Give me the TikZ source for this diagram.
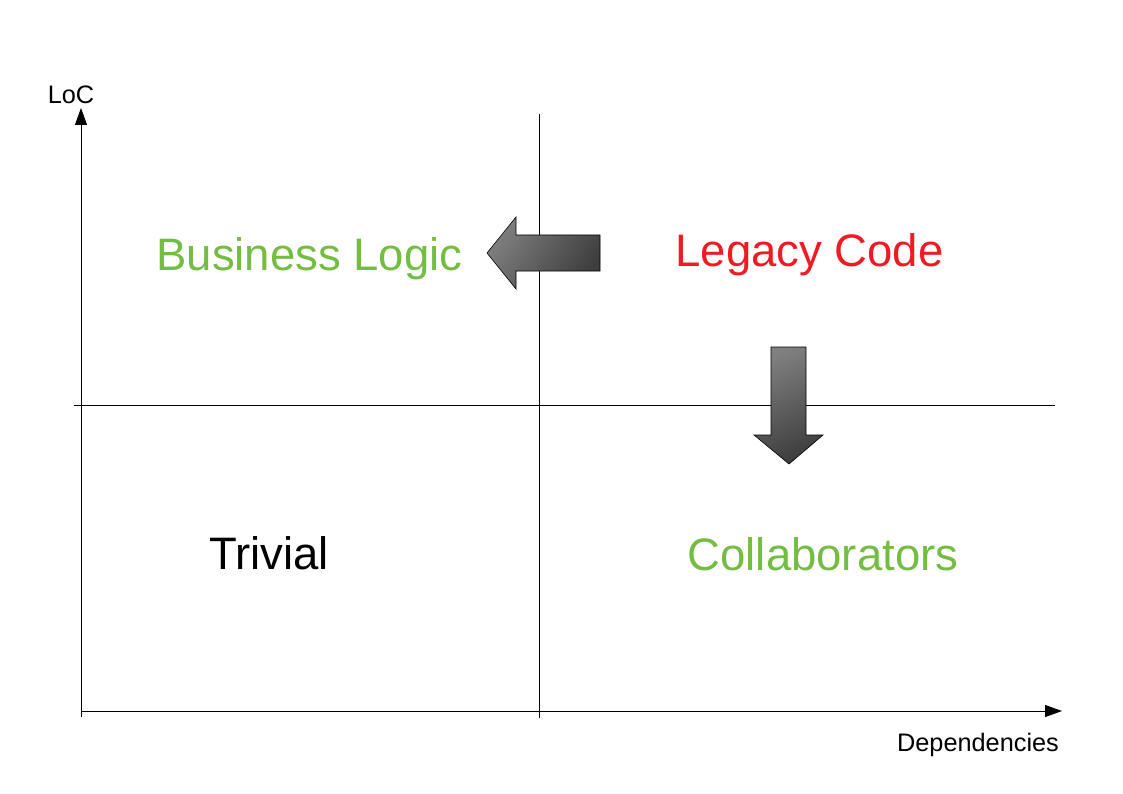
\documentclass[tikz,border=0pt]{standalone}
\usepackage{fontspec}
\setmainfont{Liberation Sans}
\usetikzlibrary{arrows.meta}
\definecolor{lgreen}{HTML}{74BD43}
\definecolor{lred}{HTML}{ED1C24}
\tikzset{
  axisline/.style={line width=1pt, -{Triangle[length=17pt,width=12pt]}},
  divider/.style={line width=0.9pt},
  bigtext/.style={font=\fontsize{45.5}{52}\selectfont, inner sep=0pt, anchor=base},
  smalltext/.style={font=\fontsize{25.3}{28}\selectfont, inner sep=0pt, anchor=base},
  blockarrow/.style={draw=black, line width=0.6pt, top color=black!50, bottom color=black!76, shading angle=#1},
}
\begin{document}
\begin{tikzpicture}[x=1pt,y=-1pt]
\useasboundingbox (0,0) rectangle (1123,794);
% axes
\coordinate (yb) at (81,717);
\coordinate (yt) at (81,108);
\coordinate (xl) at (81,711);
\coordinate (xr) at (1062,711);
\draw[axisline] (yb) -- (yt);
\draw[axisline] (xl) -- (xr);
% dividers
\coordinate (vt) at (539,114);
\coordinate (vb) at (539,718);
\coordinate (hl) at (74,405);
\coordinate (hr) at (1055,405);
\draw[divider] (vt) -- (vb);
\draw[divider] (hl) -- (hr);
% block arrows
\shadedraw[blockarrow=55]
  (600,235) -- (516,235) -- (516,217) -- (487,253) -- (516,289) -- (516,271) -- (600,271) -- cycle;
\shadedraw[blockarrow=25]
  (771,347) -- (806,347) -- (806,435) -- (823,435) -- (789,464) -- (754,435) -- (771,435) -- cycle;
% labels
\node[smalltext] (loc) at (71,104) {LoC};
\node[smalltext] (dep) at (978,751) {Dependencies};
\node[bigtext, text=lgreen] (bl) at (309.5,270) {Business Logic};
\node[bigtext, text=lred] (lc) at (809.5,266) {Legacy Code};
\node[bigtext, text=black] (tr) at (269,569) {Trivial};
\node[bigtext, text=lgreen] (co) at (823,570) {Collaborators};
\end{tikzpicture}
\end{document}
